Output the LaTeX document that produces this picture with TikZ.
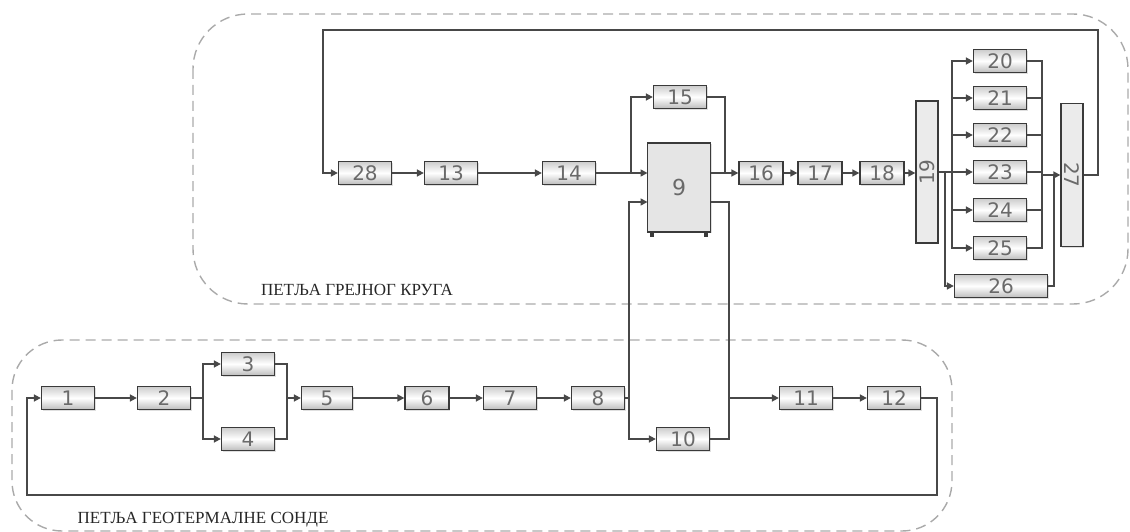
\documentclass[tikz,border=0pt]{standalone}
\usepackage{fontspec}
\usepackage{graphicx}
\usetikzlibrary{arrows.meta,shadows}
\newfontfamily\digitfont{DejaVu Sans}
\newfontfamily\labelfont{Liberation Serif}
\definecolor{boxline}{HTML}{3A3A3A}
\definecolor{boxtext}{HTML}{6A6A6A}
\definecolor{conn}{HTML}{484848}
\definecolor{dashc}{HTML}{AAAAAA}
\begin{document}
\begin{tikzpicture}[x=1pt,y=-1pt,
  base/.style={draw=boxline, line width=1.3pt, minimum height=23pt, minimum width=53pt, inner sep=0pt, text=boxtext,
    font=\digitfont\fontsize{20}{20}\selectfont,
    drop shadow={shadow xshift=1.2pt, shadow yshift=-1.2pt, opacity=0.25}},
  blk/.style={base, top color=black!20, bottom color=black!26, middle color=white},
  nar/.style={blk, minimum width=44pt},
  tall/.style={base, minimum width=22pt, fill=black!8},
  ln/.style={draw=conn, line width=1.6pt},
  arr/.style={ln, -{Triangle[length=7pt,width=7pt]}},
  loop/.style={draw=dashc, line width=1.4pt, dash pattern=on 10pt off 6pt, rounded corners=55pt},
  looplabel/.style={font=\labelfont\fontsize{17}{18}\selectfont, text=black!85, inner sep=0pt}
]
\useasboundingbox (0,0) rectangle (1130,532);

% dashed loops
\draw[loop] (193,14) rectangle (1128,304);
\draw[loop, rounded corners=50pt] (12,340) rectangle (952,531);
\node[looplabel] (lab1) at (357,290) {ПЕТЉА ГРЕЈНОГ КРУГА};
\node[looplabel] (lab2) at (203,520) {ПЕТЉА ГЕОТЕРМАЛНЕ СОНДЕ};

% lower loop blocks
\node[blk] (b1) at (68,398) {1};
\node[blk] (b2) at (164,398) {2};
\node[blk] (b3) at (248,364) {3};
\node[blk] (b4) at (248,439) {4};
\node[blk, minimum width=51pt] (b5) at (327,398) {5};
\node[nar] (b6) at (427,398) {6};
\node[blk] (b7) at (510,398) {7};
\node[blk] (b8) at (598,398) {8};
\node[blk] (b10) at (683,439) {10};
\node[blk] (b11) at (806,398) {11};
\node[blk] (b12) at (894,398) {12};

% heat pump 9
\node[base, minimum width=63pt, minimum height=89pt, font=\digitfont\fontsize{22}{22}\selectfont,
  fill=black!10] (b9) at (679,187.5) {\raisebox{-5pt}{9}};
\fill[boxline] (649.5,232) rectangle (654,236.5);
\fill[boxline] (703.5,232) rectangle (708,236.5);

% upper loop blocks
\node[blk] (b28) at (365,173) {28};
\node[blk] (b13) at (451,173) {13};
\node[blk] (b14) at (569,173) {14};
\node[blk] (b15) at (680,97) {15};
\node[nar] (b16) at (761,173) {16};
\node[nar] (b17) at (820,173) {17};
\node[nar] (b18) at (882,173) {18};
\node[tall, minimum height=142pt] (b19) at (927,172) {\rotatebox{90}{19}};
\node[blk] (b20) at (1000,61) {20};
\node[blk] (b21) at (1000,98) {21};
\node[blk] (b22) at (1000,135) {22};
\node[blk] (b23) at (1000,172) {23};
\node[blk] (b24) at (1000,210) {24};
\node[blk] (b25) at (1000,248) {25};
\node[blk, minimum width=93pt] (b26) at (1001,286) {26};
\node[tall, minimum height=143pt] (b27) at (1072,175) {\rotatebox{-90}{27}};

% helper coordinates
\coordinate (s2) at (203,398);
\coordinate (m5) at (287,398);
\coordinate (j8) at (629,398);
\coordinate (j11) at (729,398);
\coordinate (r12) at (937,495);
\coordinate (l1) at (27,495);
\coordinate (n9a) at (647.5,173);
\coordinate (n9b) at (647.5,202);
\coordinate (o9a) at (710.5,173);
\coordinate (o9b) at (710.5,202);
\coordinate (j14) at (631,173);
\coordinate (j16) at (725,173);
\coordinate (j19) at (952,172);
\coordinate (j19b) at (945,172);
\coordinate (j27) at (1042,175);
\coordinate (j26) at (1054,175);
\coordinate (tr) at (1098,30);
\coordinate (tl) at (323,30);

% lower loop connectors
\draw[arr] (b1.east) -- (b2.west);
\draw[arr] (b2.east) -- (s2) |- (b3.west);
\draw[arr] (s2) |- (b4.west);
\draw[ln] (b3.east) -| (m5);
\draw[ln] (b4.east) -| (m5);
\draw[arr] (m5) -- (b5.west);
\draw[arr] (b5.east) -- (b6.west);
\draw[arr] (b6.east) -- (b7.west);
\draw[arr] (b7.east) -- (b8.west);
\draw[ln] (b8.east) -- (j8);
\draw[arr] (j8) |- (b10.west);
\draw[arr] (j8) |- (n9b);
\draw[ln] (b10.east) -| (j11);
\draw[ln] (o9b) -| (j11);
\draw[arr] (j11) -- (b11.west);
\draw[arr] (b11.east) -- (b12.west);
\draw[arr] (b12.east) -| (r12) -- (l1) |- (b1.west);

% upper loop connectors
\draw[arr] (b27.east) -| (tr) -- (tl) |- (b28.west);
\draw[arr] (b28.east) -- (b13.west);
\draw[arr] (b13.east) -- (b14.west);
\draw[arr] (b14.east) -- (n9a);
\draw[arr] (j14) |- (b15.west);
\draw[ln] (b15.east) -| (j16);
\draw[arr] (o9a) -- (b16.west);
\draw[arr] (b16.east) -- (b17.west);
\draw[arr] (b17.east) -- (b18.west);
\draw[arr] (b18.east) -- (b19.west |- b18);
\draw[ln] (b19.east) -- (j19);
\foreach \n in {20,21,22,23,24,25} {
  \draw[arr] (j19) |- (b\n.west);
  \draw[ln] (b\n.east) -| (j27);
}
\draw[arr] (j19b) |- (b26.west);
\draw[ln] (b26.east) -| (j26);
\draw[arr] (j27) -- (b27.west |- j27);
\end{tikzpicture}
\end{document}
